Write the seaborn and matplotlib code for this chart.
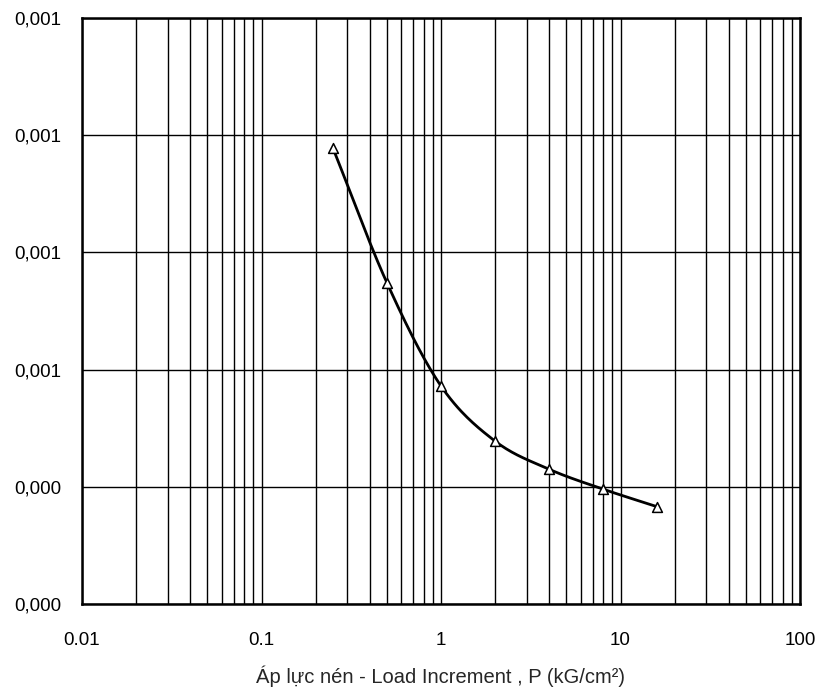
import numpy as np
import pandas as pd
import matplotlib
matplotlib.use("Agg")
import matplotlib.pyplot as plt
import seaborn as sns
from matplotlib.ticker import FixedLocator, LogLocator, NullFormatter

# Data
load = [0.25, 0.5, 1, 2, 4, 8, 16]
strain = [0.000689, 0.000574, 0.000486, 0.000439, 0.000415, 0.000398, 0.000383]
y_ticks = [0.0003, 0.0004, 0.0005, 0.0006, 0.0007, 0.0008]
y_labels = ["0,000", "0,000", "0,001", "0,001", "0,001", "0,001"]
x_ticks = [0.01, 0.1, 1, 10, 100]
x_labels = ["0.01", "0.1", "1", "10", "100"]
xlabel = "Áp lực nén - Load Increment , P (kG/cm²)"

sns.set_style("white")
plt.rcParams['font.family'] = ['Liberation Sans', 'DejaVu Sans']

df = pd.DataFrame({"P": load, "e": strain})

# smooth curve (Catmull-Rom in log-x space), like Excel smoothed line
lx = np.log10(np.array(load, float))
yy = np.array(strain, float)
px = np.concatenate([[2*lx[0]-lx[1]], lx, [2*lx[-1]-lx[-2]]])
py = np.concatenate([[2*yy[0]-yy[1]], yy, [2*yy[-1]-yy[-2]]])
sx, sy = [], []
t = np.linspace(0, 1, 30)
for i in range(1, len(px)-2):
    p0x, p1x, p2x, p3x = px[i-1:i+3]
    p0y, p1y, p2y, p3y = py[i-1:i+3]
    for arr, a0, a1, a2, a3 in ((sx, p0x, p1x, p2x, p3x), (sy, p0y, p1y, p2y, p3y)):
        arr.extend(0.5*((2*a1) + (-a0+a2)*t + (2*a0-5*a1+4*a2-a3)*t**2 + (-a0+3*a1-3*a2+a3)*t**3))
smooth = pd.DataFrame({"P": 10**np.array(sx), "e": np.array(sy)})

fig = plt.figure(figsize=(8.32, 6.93), dpi=100)
ax = fig.add_axes([82/832, 1-604/693, (800-82)/832, (604-18)/693])
ax.set_xscale("log")
sns.lineplot(data=smooth, x="P", y="e", ax=ax, color="black", linewidth=2.0, sort=False)
sns.scatterplot(data=df, x="P", y="e", ax=ax, marker="^", s=50, facecolor="white",
                edgecolor="black", linewidth=1.1, zorder=5)

ax.set_xlim(0.01, 100)
ax.set_ylim(0.0003, 0.0008)
ax.xaxis.set_major_locator(FixedLocator(x_ticks))
ax.set_xticklabels(x_labels)
ax.xaxis.set_minor_locator(LogLocator(base=10, subs=np.arange(2, 10)))
ax.xaxis.set_minor_formatter(NullFormatter())
ax.yaxis.set_major_locator(FixedLocator(y_ticks))
ax.set_yticklabels(y_labels)
ax.grid(True, which="both", axis="x", color="black", linewidth=1.0)
ax.grid(True, which="major", axis="y", color="black", linewidth=1.0)
ax.tick_params(axis="both", which="both", length=0, labelsize=13.5, colors="black")
ax.tick_params(axis="x", pad=20)
ax.tick_params(axis="y", pad=15)
for s in ax.spines.values():
    s.set_color("black")
    s.set_linewidth(1.8)
ax.set_xlabel(xlabel, fontsize=14.5, labelpad=12)
ax.set_ylabel("")

fig.savefig("out.png", dpi=100)
